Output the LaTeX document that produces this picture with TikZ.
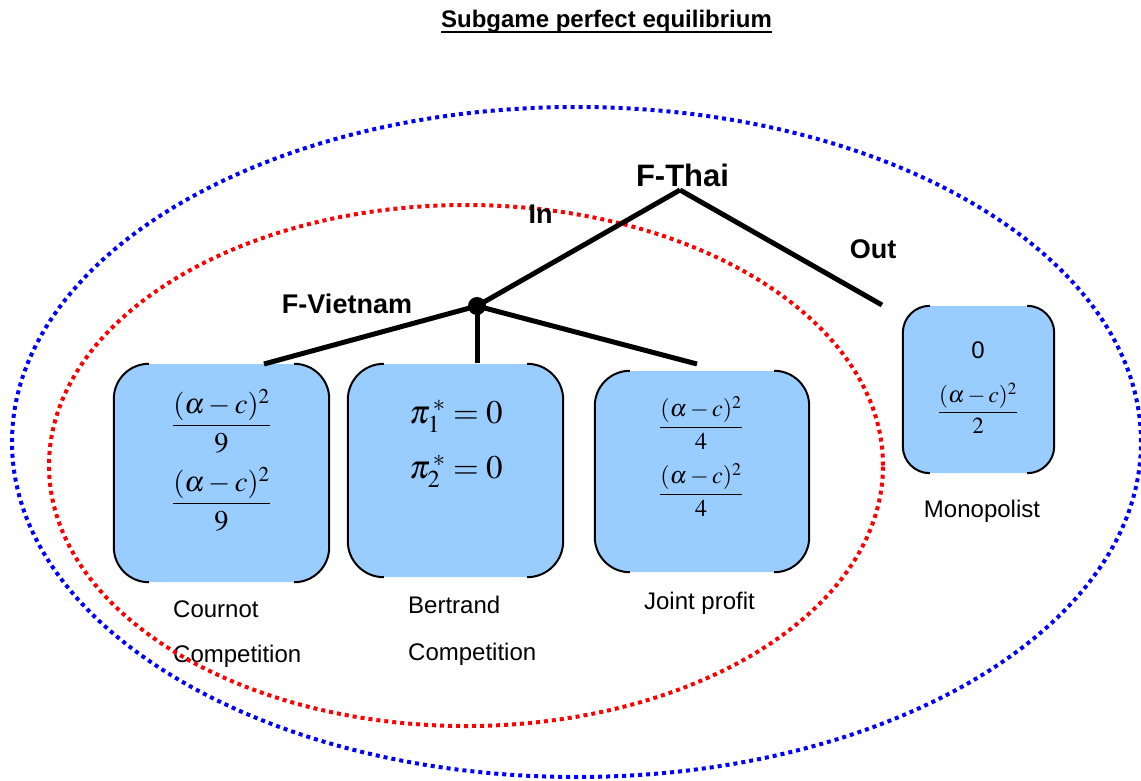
\documentclass[tikz,border=0pt]{standalone}
\usepackage{mathptmx}
\usepackage[no-math]{fontspec}
\setmainfont{Liberation Sans}
\definecolor{boxblue}{RGB}{153,204,255}
\definecolor{dotblue}{RGB}{0,0,255}
\definecolor{dotred}{RGB}{255,0,0}
\tikzset{
  payoff/.style={fill=boxblue, inner sep=0pt, rounded corners=#1},
  boxedge/.style={draw=black, line width=2pt},
  branch/.style={draw=black, line width=5pt},
  dotline/.style={line width=4pt, dash pattern=on 4pt off 4pt},
  boldlbl/.style={font=\bfseries\fontsize{27}{30}\selectfont, inner sep=0pt, anchor=base},
  txtlbl/.style={font=\fontsize{24}{28}\selectfont, inner sep=0pt},
  mathlbl/.style={inner sep=0pt, anchor=base},
}
\newcommand{\boxsides}[2]{%
  \draw[boxedge, rounded corners=#2] ([xshift=#2]#1.north west) -- (#1.north west) -- (#1.south west) -- ([xshift=#2]#1.south west);
  \draw[boxedge, rounded corners=#2] ([xshift=-#2]#1.north east) -- (#1.north east) -- (#1.south east) -- ([xshift=-#2]#1.south east);}
\newcommand{\payfrac}[2]{\ensuremath{\displaystyle\frac{(\alpha-c)^{2}}{#2}}}
\begin{document}
\begin{tikzpicture}[x=1pt,y=-1pt]
\useasboundingbox (0,0) rectangle (1141,780);
% title
\node[font=\bfseries\fontsize{24}{28}\selectfont, inner sep=0pt, anchor=base] (title) at (606.5,27) {Subgame perfect equilibrium};
\draw[line width=2pt] ([yshift=-5pt]title.base west) -- ([yshift=-5pt]title.base east);
% payoff boxes
\node[payoff=35pt, minimum width=215pt, minimum height=218pt] (b1) at (221.5,473) {};
\node[payoff=36pt, minimum width=215pt, minimum height=213pt] (b2) at (455.5,470.5) {};
\node[payoff=35pt, minimum width=214pt, minimum height=201pt] (b3) at (702,471.5) {};
\node[payoff=27pt, minimum width=151pt, minimum height=167pt] (b4) at (978.5,389.5) {};
\boxsides{b1}{35pt}
\boxsides{b2}{36pt}
\boxsides{b3}{35pt}
\boxsides{b4}{27pt}
% box contents
\node[mathlbl, font=\fontsize{28.5}{32}\selectfont] (f1a) at (221.5,433) {\payfrac{}{9}};
\node[mathlbl, font=\fontsize{28.5}{32}\selectfont] (f1b) at (221.5,511) {\payfrac{}{9}};
\node[mathlbl, font=\fontsize{33}{36}\selectfont] (p1) at (456,423) {$\pi_{1}^{\,*}=0$};
\node[mathlbl, font=\fontsize{33}{36}\selectfont] (p2) at (456,478) {$\pi_{2}^{\,*}=0$};
\node[mathlbl, font=\fontsize{24}{28}\selectfont] (f3a) at (701,433) {\payfrac{}{4}};
\node[mathlbl, font=\fontsize{24}{28}\selectfont] (f3b) at (701,500) {\payfrac{}{4}};
\node[txtlbl, anchor=base] (zero) at (978,358.5) {0};
\node[mathlbl, font=\fontsize{23}{27}\selectfont] (f4) at (978,418) {\payfrac{}{2}};
% captions
\node[txtlbl, anchor=base west] (cour1) at (173,617) {Cournot};
\node[txtlbl, anchor=base west] (cour2) at (173,662) {Competition};
\node[txtlbl, anchor=base west] (bert1) at (408,613) {Bertrand};
\node[txtlbl, anchor=base west] (bert2) at (408,660) {Competition};
\node[txtlbl, anchor=base] (joint) at (699.5,609) {Joint profit};
\node[txtlbl, anchor=base] (mono) at (982,517) {Monopolist};
% ellipses
\draw[dotline, dotblue] (576.5,442) ellipse [x radius=564.5pt, y radius=335pt];
\draw[dotline, dotred] (466,465.5) ellipse [x radius=417pt, y radius=260.5pt];
% tree
\coordinate (thai) at (680,190);
\coordinate (outend) at (882,305);
\coordinate (c1) at (264,364);
\coordinate (c2) at (477,363);
\coordinate (c3) at (697,364);
\node[circle, fill=black, minimum size=18pt, inner sep=0pt] (viet) at (477,306) {};
\draw[branch] (thai) -- (viet.center);
\draw[branch] (thai) -- (outend);
\draw[branch] (viet.center) -- (c1);
\draw[branch] (viet.center) -- (c2);
\draw[branch] (viet.center) -- (c3);
% labels
\node[boldlbl, font=\bfseries\fontsize{31}{34}\selectfont] (thailbl) at (682.5,186) {F-Thai};
\node[boldlbl] (inlbl) at (540.5,223) {In};
\node[boldlbl] (outlbl) at (873,258) {Out};
\node[boldlbl] (vietlbl) at (347,313) {F-Vietnam};
\end{tikzpicture}
\end{document}
